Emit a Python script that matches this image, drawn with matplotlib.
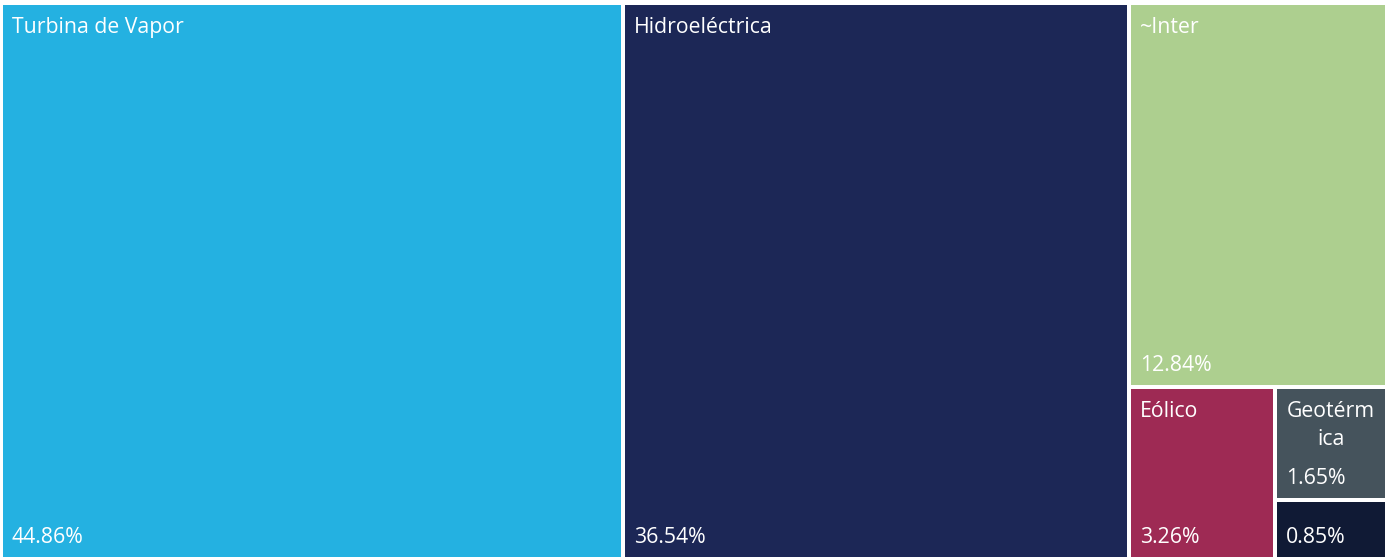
import matplotlib
matplotlib.use("Agg")
import matplotlib.pyplot as plt
from matplotlib.patches import Rectangle

labels = ["Turbina de Vapor", "Hidroeléctrica", "~Inter", "Eólico", "Geotérm\nica", ""]
values = [44.86, 36.54, 12.84, 3.26, 1.65, 0.85]
colors = ["#24B1E1", "#1C2756", "#ADCF8F", "#9E2A54", "#45535C", "#101A35"]

W, H = 1386, 556  # pixel space of the treemap
GAP = 4


def worst(row, side):
    s = sum(row)
    return max(max(side * side * r / (s * s), s * s / (side * side * r)) for r in row)


def squarify(areas, x, y, w, h):
    rects = []
    areas = list(areas)
    while areas:
        side = min(w, h)
        row = [areas.pop(0)]
        while areas and worst(row + [areas[0]], side) <= worst(row, side):
            row.append(areas.pop(0))
        s = sum(row)
        if w >= h:  # column on the left
            cw = s / h
            yy = y
            for a in row:
                rects.append((x, yy, cw, a / cw))
                yy += a / cw
            x += cw
            w -= cw
        else:  # row along the top
            rh = s / w
            xx = x
            for a in row:
                rects.append((xx, y, a / rh, rh))
                xx += a / rh
            y += rh
            h -= rh
    return rects


total = sum(values)
areas = [v / total * W * H for v in values]
rects = squarify(areas, 0, 0, W, H)

fig = plt.figure(figsize=(13.88, 5.59), dpi=100)
ax = fig.add_axes([1 / 1388, 0, W / 1388, H / 559])
ax.set_xlim(0, W)
ax.set_ylim(H, 0)
ax.axis("off")

font = "Open Sans"
fs = 15.3
for (x, y, w, h), lab, v, c in zip(rects, labels, values, colors):
    x0, y0, x1, y1 = x + GAP / 2, y + GAP / 2, x + w - GAP / 2, y + h - GAP / 2
    ax.add_patch(Rectangle((x0, y0), x1 - x0, y1 - y0, facecolor=c, edgecolor="none"))
    lines = lab.split("\n") if lab else []
    for i, line in enumerate(lines):
        if len(lines) > 1:
            ax.text((x0 + x1) / 2, y0 + 28 + 28 * i, line, color="white", fontsize=fs,
                    family=font, ha="center", va="baseline")
        else:
            ax.text(x0 + 9, y0 + 28, line, color="white", fontsize=fs, family=font,
                    ha="left", va="baseline")
    ax.text(x0 + 9, y1 - 14, f"{v:.2f}%", color="white", fontsize=fs, family=font,
            ha="left", va="baseline")

fig.savefig("out.png", dpi=100)
